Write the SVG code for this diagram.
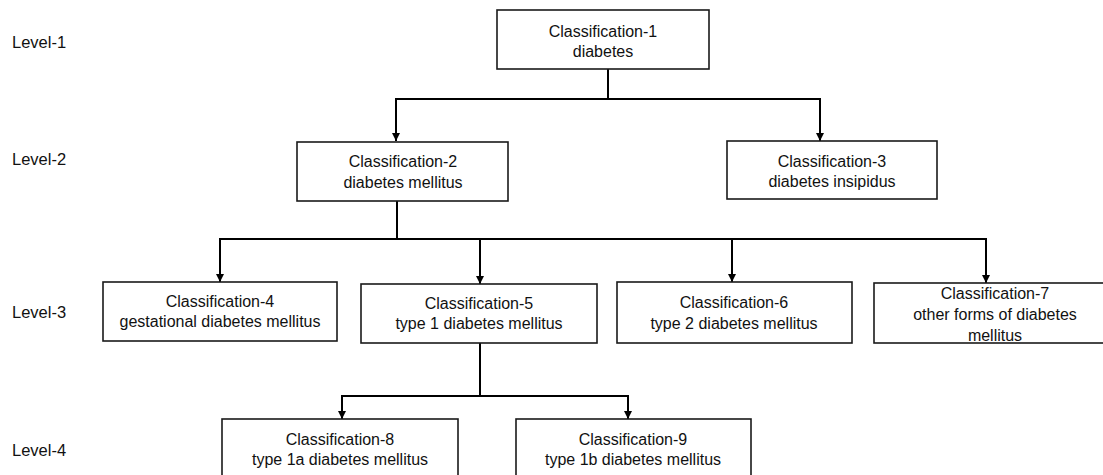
<svg xmlns="http://www.w3.org/2000/svg" width="1103" height="475" viewBox="0 0 1103 475">
<style>
  .box { fill: #ffffff; stroke: #1a1a1a; stroke-width: 1.6; }
  .t { font-family: "Liberation Sans", Arial, sans-serif; font-size: 16px; fill: #111; text-anchor: middle; }
  .lvl { font-family: "Liberation Sans", Arial, sans-serif; font-size: 16.5px; fill: #111; }
  .conn { fill: none; stroke: #000; stroke-width: 2; }
</style>
<defs>
  <marker id="arr" markerUnits="userSpaceOnUse" markerWidth="9" markerHeight="9" refX="8" refY="4.5" orient="auto">
    <path d="M0,0.5 L8,4.5 L0,8.5 z" fill="#000"/>
  </marker>
</defs>
<rect width="1103" height="475" fill="#ffffff"/>

<g id="levels">
  <text class="lvl" x="12" y="48">Level-1</text>
  <text class="lvl" x="12" y="165">Level-2</text>
  <text class="lvl" x="12" y="318">Level-3</text>
  <text class="lvl" x="12" y="456">Level-4</text>
</g>

<g id="connectors">
  <path class="conn" d="M608,69 V99 H396 V141" marker-end="url(#arr)"/>
  <path class="conn" d="M608,99 H820 V141" marker-end="url(#arr)"/>
  <path class="conn" d="M397,201 V239 H220 V282" marker-end="url(#arr)"/>
  <path class="conn" d="M397,239 H480 V284" marker-end="url(#arr)"/>
  <path class="conn" d="M480,239 H732 V282" marker-end="url(#arr)"/>
  <path class="conn" d="M732,239 H986 V283" marker-end="url(#arr)"/>
  <path class="conn" d="M480,343 V396 H342 V419" marker-end="url(#arr)"/>
  <path class="conn" d="M480,396 H628 V419" marker-end="url(#arr)"/>
</g>

<g id="node1">
  <rect class="box" x="497" y="10" width="212" height="59"/>
  <text class="t" x="603" y="37">Classification-1</text>
  <text class="t" x="603" y="57">diabetes</text>
</g>
<g id="node2">
  <rect class="box" x="297" y="142" width="211" height="59"/>
  <text class="t" x="403" y="167">Classification-2</text>
  <text class="t" x="403" y="188">diabetes mellitus</text>
</g>
<g id="node3">
  <rect class="box" x="727" y="141" width="210" height="58"/>
  <text class="t" x="832" y="167">Classification-3</text>
  <text class="t" x="832" y="187">diabetes insipidus</text>
</g>
<g id="node4">
  <rect class="box" x="103" y="282" width="234" height="59"/>
  <text class="t" x="220" y="307">Classification-4</text>
  <text class="t" x="220" y="327">gestational diabetes mellitus</text>
</g>
<g id="node5">
  <rect class="box" x="361" y="284" width="236" height="59"/>
  <text class="t" x="479" y="309">Classification-5</text>
  <text class="t" x="479" y="329">type 1 diabetes mellitus</text>
</g>
<g id="node6">
  <rect class="box" x="617" y="282" width="235" height="61"/>
  <text class="t" x="734" y="308">Classification-6</text>
  <text class="t" x="734" y="329">type 2 diabetes mellitus</text>
</g>
<g id="node7">
  <rect class="box" x="874" y="283" width="242" height="60"/>
  <text class="t" x="995" y="299">Classification-7</text>
  <text class="t" x="995" y="320">other forms of diabetes</text>
  <text class="t" x="995" y="341">mellitus</text>
</g>
<g id="node8">
  <rect class="box" x="222" y="419" width="236" height="66"/>
  <text class="t" x="340" y="445">Classification-8</text>
  <text class="t" x="340" y="465">type 1a diabetes mellitus</text>
</g>
<g id="node9">
  <rect class="box" x="516" y="419" width="235" height="66"/>
  <text class="t" x="633" y="445">Classification-9</text>
  <text class="t" x="633" y="465">type 1b diabetes mellitus</text>
</g>
</svg>
